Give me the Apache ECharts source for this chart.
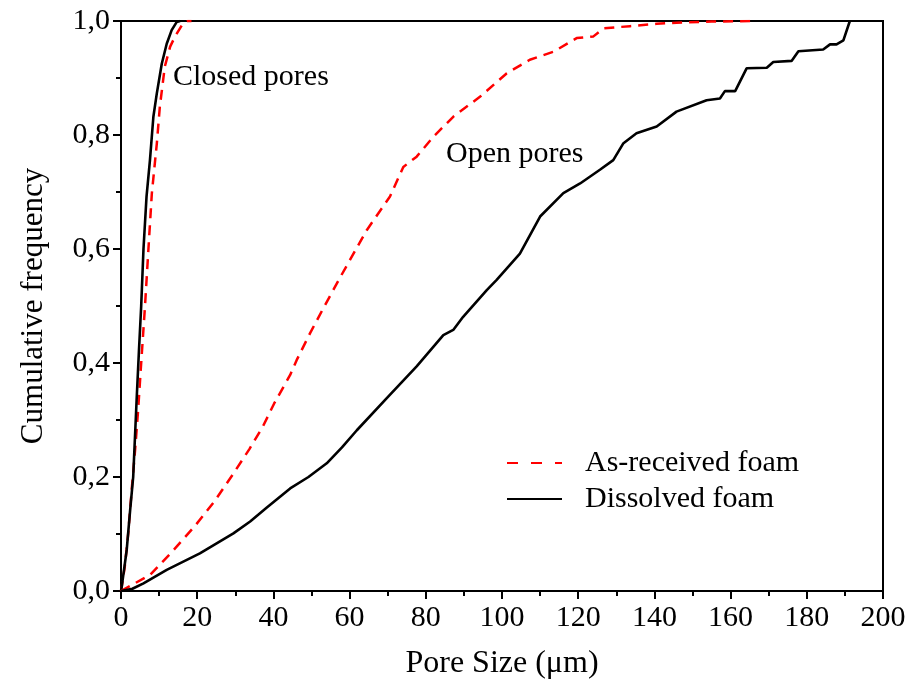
<!DOCTYPE html>
<html>
<head>
<meta charset="utf-8">
<script src="https://cdn.jsdelivr.net/npm/echarts@6/dist/echarts.min.js"></script>
<style>
html,body{margin:0;padding:0;background:#fff;}
#main{width:915px;height:691px;}
</style>
</head>
<body>
<div id="main"></div>
<script>
// closed pores, as-received foam (red dashed)
var recvClosedX=[0,0.2,1.0,1.9,2.8,3.7,4.5,5.3,6.3,7.2,8.1,9.4,10.2,11.5,12.9,14.2,16.3,17.5,18.5];
var recvClosedY=[0,0.008,0.043,0.101,0.177,0.247,0.318,0.4,0.5,0.6,0.698,0.785,0.85,0.92,0.955,0.973,0.996,1.0,1.0];
// closed pores, dissolved foam (black)
var dissClosedX=[0,0.2,1.5,2.4,3.2,4.1,4.7,5.3,5.9,6.7,7.6,8.5,9.4,10.7,12,13.3,14.6,15.5];
var dissClosedY=[0,0.008,0.072,0.142,0.2,0.335,0.42,0.5,0.6,0.692,0.756,0.832,0.873,0.925,0.96,0.984,0.998,1.0];
// open pores, as-received foam
var recvOpenX=[0,2.4,7.6,13.7,19.4,24.5,29.3,33.7,37.2,40.2,44.4,46.1,49.6,53.1,57.5,64.5,70.6,74.1,77.6,82,87.2,94.2,101.2,107.3,113.5,119.6,124,126.6,133.6,140.6,145.8,155,166.8];
var recvOpenY=[0,0.009,0.028,0.071,0.114,0.157,0.204,0.249,0.288,0.329,0.379,0.405,0.452,0.496,0.55,0.633,0.692,0.744,0.762,0.797,0.832,0.867,0.908,0.932,0.946,0.97,0.973,0.987,0.991,0.995,0.997,0.999,1.0];
// open pores, dissolved foam
var dissOpenX=[0,3,5.9,12,20.7,29.5,33.9,38.2,44.4,49.2,54,58,61.9,69.7,77.6,84.6,87.2,89.8,96,98.6,104.7,110,116.1,120.5,125.7,129.2,131.8,135.3,140.6,145.8,153.7,157.2,158.5,161.2,164.2,169.5,171.2,176,177.8,184.3,186.1,187.8,189.6,191.3];
var dissOpenY=[0,0.004,0.0135,0.037,0.066,0.101,0.122,0.146,0.18,0.2,0.224,0.252,0.282,0.338,0.394,0.449,0.458,0.481,0.528,0.546,0.592,0.657,0.698,0.715,0.739,0.756,0.785,0.803,0.815,0.841,0.861,0.864,0.877,0.877,0.917,0.918,0.928,0.93,0.947,0.95,0.959,0.959,0.966,1.0];

var xTicks=[0,20,40,60,80,100,120,140,160,180,200];
var yTicks=[0,0.2,0.4,0.6,0.8,1.0];

var pairs=function(xs,ys){
  var out=[];
  for(var i=0;i<xs.length;i++){ out.push([xs[i],ys[i]]); }
  return out;
}

var font="'Liberation Serif','Times New Roman',serif";
var redLine={color:"#ff0000",width:2.5,type:[10,7]};
var blackLine={color:"#000000",width:2.6,type:"solid"};

var myChart=echarts.init(document.getElementById('main'));
var options={
  backgroundColor:"#fff",
  animation:false,
  grid:{left:121,right:32,top:21,bottom:100,show:true,borderColor:"#000",borderWidth:2},
  legend:{
    orient:"vertical",left:501,top:443,itemWidth:55,itemHeight:14,itemGap:6,
    itemStyle:{opacity:0},
    textStyle:{fontFamily:font,fontSize:30,color:"#000",padding:[0,0,0,18]},
    data:[
      {name:"As-received foam",lineStyle:{type:[11,13]}},
      {name:"Dissolved foam"}
    ]
  },
  xAxis:{
    type:"value",min:0,max:200,interval:20,
    name:"Pore Size (μm)",nameLocation:"middle",nameGap:57,
    nameTextStyle:{fontFamily:font,fontSize:32,color:"#000"},
    axisLine:{lineStyle:{color:"#000",width:2}},
    axisTick:{length:8,lineStyle:{color:"#000",width:2}},
    minorTick:{show:true,splitNumber:2,length:5,lineStyle:{color:"#000",width:2}},
    splitLine:{show:false},
    axisLabel:{fontFamily:font,fontSize:30,color:"#000",margin:12,
      formatter:function(v){ return xTicks.indexOf(v)>=0?String(v):""; }}
  },
  yAxis:{
    type:"value",min:0,max:1,interval:0.2,
    name:"Cumulative frequency",nameLocation:"middle",nameGap:72,
    nameTextStyle:{fontFamily:font,fontSize:31,color:"#000"},
    axisLine:{lineStyle:{color:"#000",width:2}},
    axisTick:{length:8,lineStyle:{color:"#000",width:2}},
    minorTick:{show:true,splitNumber:2,length:5,lineStyle:{color:"#000",width:2}},
    splitLine:{show:false},
    axisLabel:{fontFamily:font,fontSize:30,color:"#000",margin:11,
      formatter:function(v){ return v.toFixed(1).replace(".",","); }}
  },
  graphic:[
    {type:"text",left:173,top:62,style:{text:"Closed pores",font:"30px "+font,fill:"#000"}},
    {type:"text",left:446,top:139,style:{text:"Open pores",font:"30px "+font,fill:"#000"}}
  ],
  series:[
    {name:"As-received foam",type:"line",symbol:"none",lineStyle:redLine,itemStyle:{color:"#ff0000"},data:pairs(recvClosedX,recvClosedY)},
    {name:"Dissolved foam",type:"line",symbol:"none",lineStyle:blackLine,itemStyle:{color:"#000"},data:pairs(dissClosedX,dissClosedY)},
    {name:"As-received foam",type:"line",symbol:"none",lineStyle:redLine,itemStyle:{color:"#ff0000"},data:pairs(recvOpenX,recvOpenY)},
    {name:"Dissolved foam",type:"line",symbol:"none",lineStyle:blackLine,itemStyle:{color:"#000"},data:pairs(dissOpenX,dissOpenY)}
  ]
};
myChart.setOption(options);
</script>
</body>
</html>
